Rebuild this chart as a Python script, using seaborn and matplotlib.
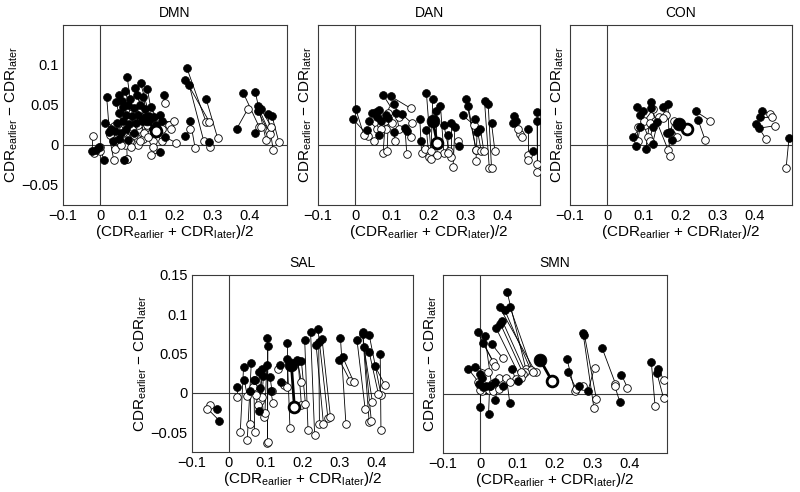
import numpy as np
import matplotlib
matplotlib.use("Agg")
import matplotlib.pyplot as plt
import seaborn as sns

# ---- DMN: filled (f) and open (o) ends of each pair ----
dmn_fx = [-0.022, -0.012, -0.004, 0.009, 0.017, 0.013, 0.022, 0.029, 0.042, 0.051, 0.065, 0.072,
          0.094, 0.108, 0.126, 0.170, 0.099, 0.058, 0.080, 0.115, 0.060, 0.075, 0.090, 0.105,
          0.120, 0.135, 0.050, 0.068, 0.085, 0.100, 0.130, 0.145, 0.160, 0.045, 0.060, 0.078,
          0.095, 0.112, 0.150, 0.165, 0.040, 0.055, 0.070, 0.090, 0.035, 0.050, 0.075, 0.160,
          0.0625, 0.173, 0.140,
          0.232, 0.228, 0.238, 0.283, 0.241, 0.228, 0.292,
          0.365, 0.383, 0.415, 0.421, 0.421, 0.415, 0.448, 0.460, 0.430]
dmn_fy = [-0.008, -0.006, -0.003, -0.019, 0.060, 0.027, 0.016, 0.020, 0.054, 0.063, 0.068, 0.085,
          0.071, 0.077, 0.070, 0.062, 0.062, 0.055, 0.057, 0.060, 0.047, 0.050, 0.046, 0.050,
          0.045, 0.048, 0.040, 0.038, 0.036, 0.038, 0.036, 0.035, 0.038, 0.028, 0.030, 0.026,
          0.028, 0.030, 0.025, 0.030, 0.018, 0.015, 0.020, 0.015, 0.005, 0.008, 0.006, -0.009,
          -0.019, 0.010, 0.020,
          0.096, 0.0815, 0.075, 0.058, 0.030, 0.011, 0.004,
          0.020, 0.065, 0.066, 0.049, 0.043, 0.0155, 0.039, 0.036, 0.045]
dmn_ox = [-0.020, -0.016, 0.000, 0.000, 0.025, 0.0375, 0.036, 0.045, 0.060, 0.075, 0.090, 0.085,
          0.120, 0.130, 0.145, 0.173, 0.110, 0.070, 0.100, 0.135, 0.080, 0.095, 0.115, 0.125,
          0.140, 0.155, 0.065, 0.072, 0.100, 0.118, 0.140, 0.165, 0.185, 0.060, 0.080, 0.090,
          0.105, 0.128, 0.190, 0.198, 0.050, 0.065, 0.082, 0.100, 0.040, 0.055, 0.085, 0.136,
          0.071, 0.202, 0.165,
          0.283, 0.292, 0.277, 0.314, 0.254, 0.241, 0.294,
          0.395, 0.426, 0.444, 0.451, 0.454, 0.430, 0.463, 0.478, 0.458]
dmn_oy = [0.011, -0.0105, -0.008, -0.002, 0.012, 0.024, -0.019, 0.005, 0.020, 0.030, 0.035, 0.040,
          0.030, 0.040, 0.020, 0.052, 0.045, 0.010, 0.020, 0.015, 0.005, 0.010, 0.008, 0.025,
          0.005, 0.030, 0.025, -0.018, 0.000, 0.015, -0.002, 0.020, 0.025, 0.015, 0.020, 0.012,
          0.005, 0.010, 0.020, 0.030, 0.005, 0.000, -0.003, 0.025, -0.005, 0.000, 0.020, -0.012,
          -0.018, 0.003, 0.005,
          0.029, 0.029, 0.005, 0.009, -0.004, 0.020, -0.0025,
          0.045, 0.022, 0.006, 0.018, 0.014, 0.022, -0.006, 0.004, 0.023]

# ---- DAN ----
dan_fx = [-0.005, 0.002, 0.033, 0.038, 0.047, 0.056, 0.065, 0.076, 0.096, 0.083, 0.090, 0.105,
          0.126, 0.105, 0.135, 0.140, 0.065, 0.060, 0.070, 0.110,
          0.175, 0.178, 0.193, 0.193, 0.210, 0.231, 0.219, 0.240, 0.260, 0.270, 0.252, 0.282,
          0.300, 0.306, 0.291, 0.325, 0.339, 0.330, 0.350, 0.360, 0.369,
          0.429, 0.426, 0.435, 0.467, 0.480, 0.492, 0.492]
dan_fy = [0.032, 0.045, 0.019, 0.030, 0.040, 0.041, 0.044, 0.0625, 0.061, 0.037, 0.034, 0.051,
          0.039, 0.016, 0.021, 0.018, 0.012, 0.035, 0.030, 0.040,
          0.033, 0.005, 0.019, 0.065, 0.0575, 0.049, 0.043, 0.025, 0.027, 0.022, 0.012, -0.001,
          0.058, 0.049, 0.037, 0.0325, 0.020, 0.016, 0.055, 0.051, 0.027,
          0.036, 0.027, 0.030, 0.020, -0.008, 0.041, 0.030]
dan_ox = [0.036, 0.024, 0.050, 0.060, 0.070, 0.080, 0.085, 0.100, 0.150, 0.076, 0.087, 0.120,
          0.154, 0.108, 0.140, 0.150, 0.070, 0.100, 0.090, 0.120,
          0.180, 0.190, 0.200, 0.205, 0.205, 0.240, 0.222, 0.255, 0.260, 0.265, 0.250, 0.278,
          0.327, 0.327, 0.322, 0.341, 0.348, 0.327, 0.363, 0.369, 0.378,
          0.445, 0.440, 0.450, 0.467, 0.467, 0.493, 0.492]
dan_oy = [0.0116, 0.0125, 0.005, 0.020, 0.025, 0.030, 0.020, 0.045, 0.046, -0.010, -0.007, 0.035,
          0.027, 0.005, -0.011, 0.010, 0.020, 0.028, 0.040, 0.020,
          -0.010, -0.005, -0.015, -0.007, -0.0175, -0.010, -0.013, -0.008, -0.015, -0.028, -0.010, 0.005,
          -0.006, -0.006, 0.025, -0.007, -0.007, -0.020, -0.029, -0.029, -0.007,
          0.014, 0.020, 0.010, -0.0125, -0.019, -0.034, -0.024]

# ---- CON ----
con_fx = [0.081, 0.090, 0.097, 0.118, 0.120, 0.151, 0.165, 0.088, 0.071, 0.078, 0.105, 0.123,
          0.123, 0.134, 0.161, 0.171, 0.177, 0.240, 0.246, 0.420, 0.413, 0.404, 0.410, 0.492]
con_fy = [0.048, 0.037, 0.042, 0.054, 0.046, 0.048, 0.051, 0.022, 0.010, -0.001, -0.005, 0.001,
          0.022, 0.029, 0.0146, 0.0166, 0.0066, 0.042, 0.0316, 0.042, 0.035, 0.026, 0.021, 0.009]
con_ox = [0.104, 0.111, 0.083, 0.130, 0.165, 0.160, 0.169, 0.125, 0.100, 0.085, 0.115, 0.140,
          0.115, 0.150, 0.175, 0.180, 0.190, 0.278, 0.265, 0.440, 0.445, 0.429, 0.453, 0.484]
con_oy = [0.025, 0.010, 0.005, 0.030, -0.006, 0.038, -0.014, 0.045, 0.030, 0.022, 0.028, 0.035,
          0.005, 0.034, 0.012, 0.030, 0.010, 0.0305, 0.0066, 0.039, 0.035, 0.008, 0.024, -0.029]

# ---- SAL ----
sal_fx = [-0.032, -0.026, 0.023, 0.040, 0.042, 0.061, 0.058, 0.068, 0.071, 0.082, 0.091, 0.094,
          0.085, 0.082, 0.103, 0.104, 0.106, 0.112, 0.114, 0.139, 0.142, 0.157, 0.159, 0.186,
          0.188, 0.197, 0.206, 0.222, 0.242, 0.244, 0.237, 0.253, 0.303, 0.300, 0.309, 0.348,
          0.363, 0.364, 0.381, 0.367, 0.381, 0.397, 0.411]
sal_fy = [-0.020, -0.035, 0.007, 0.033, 0.017, 0.038, 0.0025, 0.016, 0.016, 0.0266, 0.030, 0.022,
          0.006, -0.023, 0.035, 0.070, 0.060, 0.020, 0.002, 0.035, 0.014, 0.063, 0.043, 0.042,
          0.041, 0.0405, 0.067, 0.077, 0.081, 0.065, 0.061, 0.069, 0.070, 0.042, 0.046, 0.067,
          0.078, 0.0745, 0.074, 0.058, 0.052, 0.034, 0.050]
sal_ox = [-0.051, -0.058, 0.023, 0.031, 0.050, 0.050, 0.058, 0.070, 0.065, 0.095, 0.085, 0.090,
          0.078, 0.075, 0.098, 0.104, 0.105, 0.117, 0.120, 0.134, 0.150, 0.157, 0.166, 0.197,
          0.197, 0.208, 0.215, 0.233, 0.269, 0.246, 0.257, 0.276, 0.318, 0.330, 0.339, 0.370,
          0.381, 0.387, 0.413, 0.390, 0.406, 0.424, 0.413]
sal_oy = [-0.015, -0.020, -0.005, -0.050, -0.004, -0.060, -0.040, -0.049, 0.007, -0.030, -0.010, -0.005,
          -0.015, -0.003, -0.025, -0.064, -0.062, 0.003, -0.013, 0.031, 0.010, 0.007, -0.045, 0.014,
          -0.015, -0.014, -0.047, -0.054, -0.032, -0.040, -0.040, -0.031, -0.040, 0.015, 0.014, -0.020,
          -0.037, -0.036, -0.002, -0.012, -0.001, 0.010, -0.047]

# ---- SMN ----
smn_fx = [0.072, 0.052, 0.065, 0.079, 0.059, 0.054, 0.042, -0.007, 0.012, 0.007, 0.030, -0.032,
          -0.015, 0.000, 0.005, -0.004, 0.008, 0.016, 0.027, 0.040, 0.000, 0.022, 0.040, 0.079,
          0.084, 0.101, 0.060,
          0.232, 0.234, 0.263, 0.275, 0.279, 0.288, 0.326, 0.378, 0.374, 0.458, 0.477, 0.473]
smn_fy = [0.128, 0.109, 0.106, 0.110, 0.092, 0.088, 0.083, 0.0775, 0.073, 0.064, 0.063, 0.031,
          0.034, 0.025, 0.020, 0.012, 0.008, 0.010, 0.010, 0.015, -0.017, -0.026, -0.008, -0.012,
          0.031, 0.016, 0.010,
          0.044, 0.028, 0.010, 0.077, 0.074, 0.003, 0.058, 0.024, -0.011, 0.040, 0.031, 0.026]
smn_ox = [0.122, 0.148, 0.135, 0.140, 0.120, 0.115, 0.108, 0.035, 0.030, 0.040, 0.060, -0.005,
          0.020, 0.010, 0.015, 0.004, 0.022, 0.030, 0.035, 0.050, 0.000, 0.025, 0.050, 0.070,
          0.095, 0.110, 0.080,
          0.253, 0.257, 0.275, 0.304, 0.311, 0.306, 0.362, 0.394, 0.360, 0.468, 0.492, 0.491]
smn_oy = [0.031, 0.027, 0.030, 0.028, 0.028, 0.025, 0.020, 0.040, 0.012, 0.035, 0.045, 0.015,
          0.028, 0.005, 0.006, 0.004, 0.005, 0.012, 0.004, 0.006, 0.005, 0.010, 0.020, 0.020,
          0.018, 0.028, 0.015,
          0.003, 0.006, 0.010, -0.0175, -0.007, 0.033, 0.0125, 0.0075, 0.010, -0.0155, 0.0167, -0.006]

# group means (big markers), order: DMN, DAN, CON, SAL, SMN
mean_fx = [0.125, 0.210, 0.195, 0.170, 0.160]
mean_fy = [0.032, 0.030, 0.026, 0.035, 0.043]
mean_ox = [0.149, 0.222, 0.217, 0.178, 0.192]
mean_oy = [0.0176, 0.003, 0.020, -0.018, 0.016]

titles = ["DMN", "DAN", "CON", "SAL", "SMN"]
xticks = [-0.1, 0, 0.1, 0.2, 0.3, 0.4]
xticklabels = ["\u22120.1", "0", "0.1", "0.2", "0.3", "0.4"]
yticks = [-0.05, 0, 0.05, 0.1, 0.15]
yticklabels = ["\u22120.05", "0", "0.05", "0.1", "0.15"]

sns.set_style("white")
plt.rcParams["font.family"] = ["Liberation Sans", "DejaVu Sans"]
plt.rcParams["mathtext.fontset"] = "custom"
plt.rcParams["mathtext.rm"] = "Liberation Sans"
plt.rcParams["mathtext.it"] = "Liberation Sans:italic"
plt.rcParams["text.color"] = "black"
plt.rcParams["axes.labelcolor"] = "black"

fig = plt.figure(figsize=(8, 4.92), dpi=100)
W, H = 800, 492
# axes boxes in pixels: left, right, top, bottom
boxes = [(63, 287, 25, 205), (318, 540, 25, 205), (570, 792, 25, 205),
         (192, 413, 275, 452), (443, 667, 275, 453)]
data = [(dmn_fx, dmn_fy, dmn_ox, dmn_oy), (dan_fx, dan_fy, dan_ox, dan_oy),
        (con_fx, con_fy, con_ox, con_oy), (sal_fx, sal_fy, sal_ox, sal_oy),
        (smn_fx, smn_fy, smn_ox, smn_oy)]
gray = "#3a3a3a"

for i, (l, r, t, b) in enumerate(boxes):
    ax = fig.add_axes([l / W, (H - b) / H, (r - l) / W, (b - t) / H])
    fx, fy, ox, oy = [np.asarray(v) for v in data[i]]

    ax.axhline(0, color=gray, lw=0.8, zorder=1)
    ax.axvline(0, color=gray, lw=0.8, zorder=1)
    ax.plot(np.vstack([fx, ox]), np.vstack([fy, oy]), color="black", lw=0.6, zorder=2)
    sns.scatterplot(x=ox, y=oy, ax=ax, s=30, color="white", edgecolor="black",
                    linewidth=0.6, zorder=3)
    sns.scatterplot(x=fx, y=fy, ax=ax, s=32, color="black", edgecolor="black",
                    linewidth=0.5, zorder=4)

    # group mean pair
    ax.plot([mean_fx[i], mean_ox[i]], [mean_fy[i], mean_oy[i]], color="black", lw=2, zorder=5)
    sns.scatterplot(x=[mean_ox[i]], y=[mean_oy[i]], ax=ax, s=60, color="white",
                    edgecolor="black", linewidth=2, zorder=6)
    sns.scatterplot(x=[mean_fx[i]], y=[mean_fy[i]], ax=ax, s=85, color="black",
                    edgecolor="black", linewidth=0.5, zorder=6)

    ax.set_xlim(-0.1, 0.5)
    ax.set_ylim(-0.075, 0.15)
    ax.set_xticks(xticks)
    ax.set_xticklabels(xticklabels, fontsize=10.5)
    if i == 0:
        ax.set_yticks(yticks[:-1])
        ax.set_yticklabels(yticklabels[:-1], fontsize=10.5)
    elif i == 3:
        ax.set_yticks(yticks)
        ax.set_yticklabels(yticklabels, fontsize=10.5)
    else:
        ax.set_yticks(yticks)
        ax.set_yticklabels([])
    ax.tick_params(direction="in", length=3, width=0.6, colors="black", pad=3)
    for sp in ax.spines.values():
        sp.set_color(gray)
        sp.set_linewidth(0.8)

    ax.set_title(titles[i], fontsize=10, pad=6)
    ax.set_xlabel(r"(CDR$_{\rm earlier}$ + CDR$_{\rm later}$)/2", fontsize=11, labelpad=0)
    ax.set_ylabel(r"CDR$_{\rm earlier}$ $-$ CDR$_{\rm later}$", fontsize=11,
                  labelpad=1 if i in (0, 3) else 0)

fig.savefig("out.png", dpi=100)
